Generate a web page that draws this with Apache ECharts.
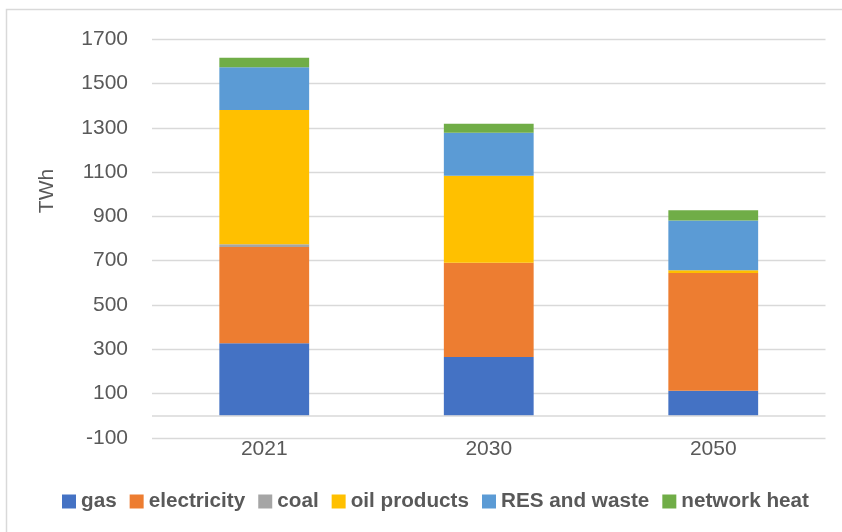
<!DOCTYPE html>
<html>
<head>
<meta charset="utf-8">
<script src="https://cdn.jsdelivr.net/npm/echarts@6/dist/echarts.min.js"></script>
<style>html,body{margin:0;padding:0;background:#fff}#c{width:842px;height:532px}</style>
</head>
<body>
<div id="c"></div>
<script>
var categories = ['2021', '2030', '2050'];
var gas = [327, 265, 113];
var electricity = [435, 426, 531];
var coal = [12, 0, 0];
var oilProducts = [607, 393, 13];
var resAndWaste = [193, 194, 224];
var networkHeat = [43, 41, 47];
var seriesNames = ['gas', 'electricity', 'coal', 'oil products', 'RES and waste', 'network heat'];
var seriesColors = ['#4472c4', '#ed7d31', '#a5a5a5', '#ffc000', '#5b9bd5', '#70ad47'];
var seriesData = [gas, electricity, coal, oilProducts, resAndWaste, networkHeat];
var yMin = -100, yMax = 1700, yInterval = 200;

var chart = echarts.init(document.getElementById('c'), null, {renderer: 'canvas'});
var series = seriesNames.map(function (n, i) {
  var s = {
    name: n, type: 'bar', stack: 'total', barWidth: '40%',
    itemStyle: {color: seriesColors[i]},
    data: seriesData[i], animation: false
  };
  if (i === 0) {
    s.markLine = {
      silent: true, symbol: ['none', 'none'], label: {show: false},
      lineStyle: {color: '#d9d9d9', width: 1.5, type: 'solid'},
      data: [{yAxis: 0}], animation: false
    };
  }
  return s;
});
chart.setOption({
  animation: false,
  backgroundColor: '#fff',
  textStyle: {fontFamily: 'Liberation Sans'},
  grid: {left: 152, right: 16.5, top: 39.3, bottom: 94.2, containLabel: false},
  xAxis: {
    type: 'category', data: categories,
    axisLine: {show: false}, axisTick: {show: false},
    axisLabel: {color: '#595959', fontSize: 21, margin: 1, fontFamily: 'Liberation Sans'}
  },
  yAxis: {
    type: 'value', min: yMin, max: yMax, interval: yInterval,
    axisLine: {show: false}, axisTick: {show: false},
    splitLine: {lineStyle: {color: '#d9d9d9', width: 1.3}},
    axisLabel: {color: '#595959', fontSize: 21, margin: 24, fontFamily: 'Liberation Sans',
      formatter: function (v) { return String(v); }}
  },
  legend: {
    data: seriesNames, top: 486, left: 57,
    itemWidth: 14, itemHeight: 14, itemGap: 13, icon: 'rect',
    textStyle: {color: '#595959', fontSize: 20.7, fontWeight: 'bold', fontFamily: 'Liberation Sans'}
  },
  graphic: [
    {type: 'rect', shape: {x: 6.5, y: 9.5, width: 900, height: 600}, style: {fill: 'none', stroke: '#d9d9d9', lineWidth: 1.5}, silent: true},
    {type: 'text', x: 47, y: 191, rotation: Math.PI / 2,
      style: {text: 'TWh', fill: '#595959', font: '21px "Liberation Sans"', textAlign: 'center', textVerticalAlign: 'middle'}}
  ],
  series: series
});
</script>
</body>
</html>
